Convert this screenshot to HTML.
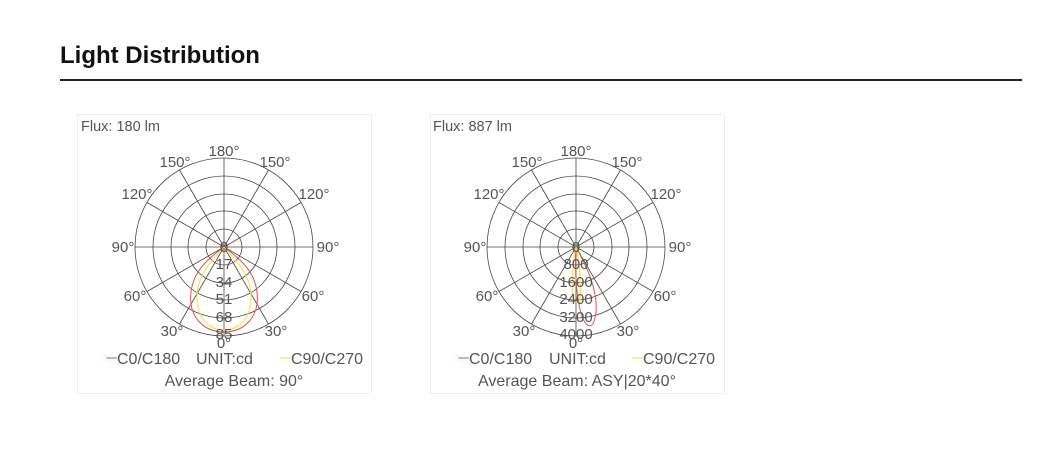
<!DOCTYPE html>
<html><head><style>
body{margin:0;width:1055px;height:461px;background:#fff;font-family:"Liberation Sans",sans-serif;overflow:hidden;position:relative}
h1{position:absolute;left:60px;top:42px;margin:0;font-size:24px;font-weight:bold;color:#111}
.line{position:absolute;left:60px;top:79px;width:962px;height:2px;background:#222}
svg{position:absolute;left:0;top:0}
text{font-family:"Liberation Sans",sans-serif;fill:#555;font-size:15px}
</style></head><body>
<h1>Light Distribution</h1><div class="line"></div>
<svg width="1055" height="461">
<defs>
<g id="grid" fill="none" stroke="#444" stroke-width="0.8">
<circle r="18"/><circle r="36"/><circle r="53"/><circle r="71"/><circle r="89"/>
<line x1="-89" y1="0" x2="89" y2="0"/><line x1="0" y1="-89" x2="0" y2="89"/>
<line x1="-77" y1="-44.5" x2="77" y2="44.5"/><line x1="-77" y1="44.5" x2="77" y2="-44.5"/>
<line x1="-44.5" y1="-77" x2="44.5" y2="77"/><line x1="-44.5" y1="77" x2="44.5" y2="-77"/>
</g>
<g id="labels">
<text x="0" y="-91" text-anchor="middle">180°</text>
<text x="-49" y="-80" text-anchor="middle">150°</text><text x="51" y="-80" text-anchor="middle">150°</text>
<text x="-87" y="-48" text-anchor="middle">120°</text><text x="90" y="-48" text-anchor="middle">120°</text>
<text x="-101" y="5" text-anchor="middle">90°</text><text x="104" y="5" text-anchor="middle">90°</text>
<text x="-89" y="54" text-anchor="middle">60°</text><text x="89" y="54" text-anchor="middle">60°</text>
<text x="-52" y="89" text-anchor="middle">30°</text><text x="52" y="89" text-anchor="middle">30°</text>
<text x="0" y="101" text-anchor="middle">0°</text>
</g>
</defs>
<rect x="77.5" y="114.5" width="294" height="279" fill="none" stroke="#eee"/>
<rect x="430.5" y="114.5" width="294" height="279" fill="none" stroke="#eee"/>
<text x="81" y="131" style="font-size:14.5px">Flux: 180 lm</text>
<text x="433" y="131" style="font-size:14.5px">Flux: 887 lm</text>
<g transform="translate(224,247)">
<use href="#grid"/><use href="#labels"/>
<path d="M0,0 C-10,8 -30,20 -33,45 C-36,70 -20,85 0,85 C20,85 36,70 33,45 C30,20 10,8 0,0Z" fill="none" stroke="#e8504a" stroke-width="1"/>
<path d="M0,0 C-8,10 -27,25 -27,50 C-27,72 -14,83 0,83 C14,83 27,72 27,50 C27,25 8,10 0,0Z" fill="none" stroke="#f2e43a" stroke-width="1"/>
<g text-anchor="middle"><text x="0" y="5">0</text><text x="0" y="22">17</text><text x="0" y="40">34</text><text x="0" y="57">51</text><text x="0" y="75">68</text><text x="0" y="92">85</text></g>
</g>
<g transform="translate(576,247)">
<use href="#grid"/><use href="#labels"/>
<path d="M0,0 C8,15 22,40 20,65 C18,82 12,82 7,72 C2,60 -2,30 0,0Z" fill="none" stroke="#e8504a" stroke-width="1"/>
<path d="M0,0 C4,15 5,40 4,55 L-3,55 C-4,40 -4,15 0,0Z" fill="none" stroke="#f2e43a" stroke-width="1.2"/>
<g text-anchor="middle"><text x="0" y="5">0</text><text x="0" y="22">800</text><text x="0" y="40">1600</text><text x="0" y="57">2400</text><text x="0" y="75">3200</text><text x="0" y="92">4000</text></g>
</g>
<line x1="106" y1="358" x2="117" y2="358" stroke="#e8504a"/>
<text x="117" y="364" style="font-size:16px">C0/C180</text><text x="196" y="364" style="font-size:16px">UNIT:cd</text>
<line x1="280" y1="358" x2="291" y2="358" stroke="#f2e43a"/>
<text x="291" y="364" style="font-size:16px">C90/C270</text>
<text x="234" y="386" text-anchor="middle" style="font-size:16px">Average Beam: 90°</text>
<line x1="458" y1="358" x2="469" y2="358" stroke="#e8504a"/>
<text x="469" y="364" style="font-size:16px">C0/C180</text><text x="549" y="364" style="font-size:16px">UNIT:cd</text>
<line x1="632" y1="358" x2="643" y2="358" stroke="#f2e43a"/>
<text x="643" y="364" style="font-size:16px">C90/C270</text>
<text x="577" y="386" text-anchor="middle" style="font-size:16px">Average Beam: ASY|20*40°</text>
</svg>
</body></html>
